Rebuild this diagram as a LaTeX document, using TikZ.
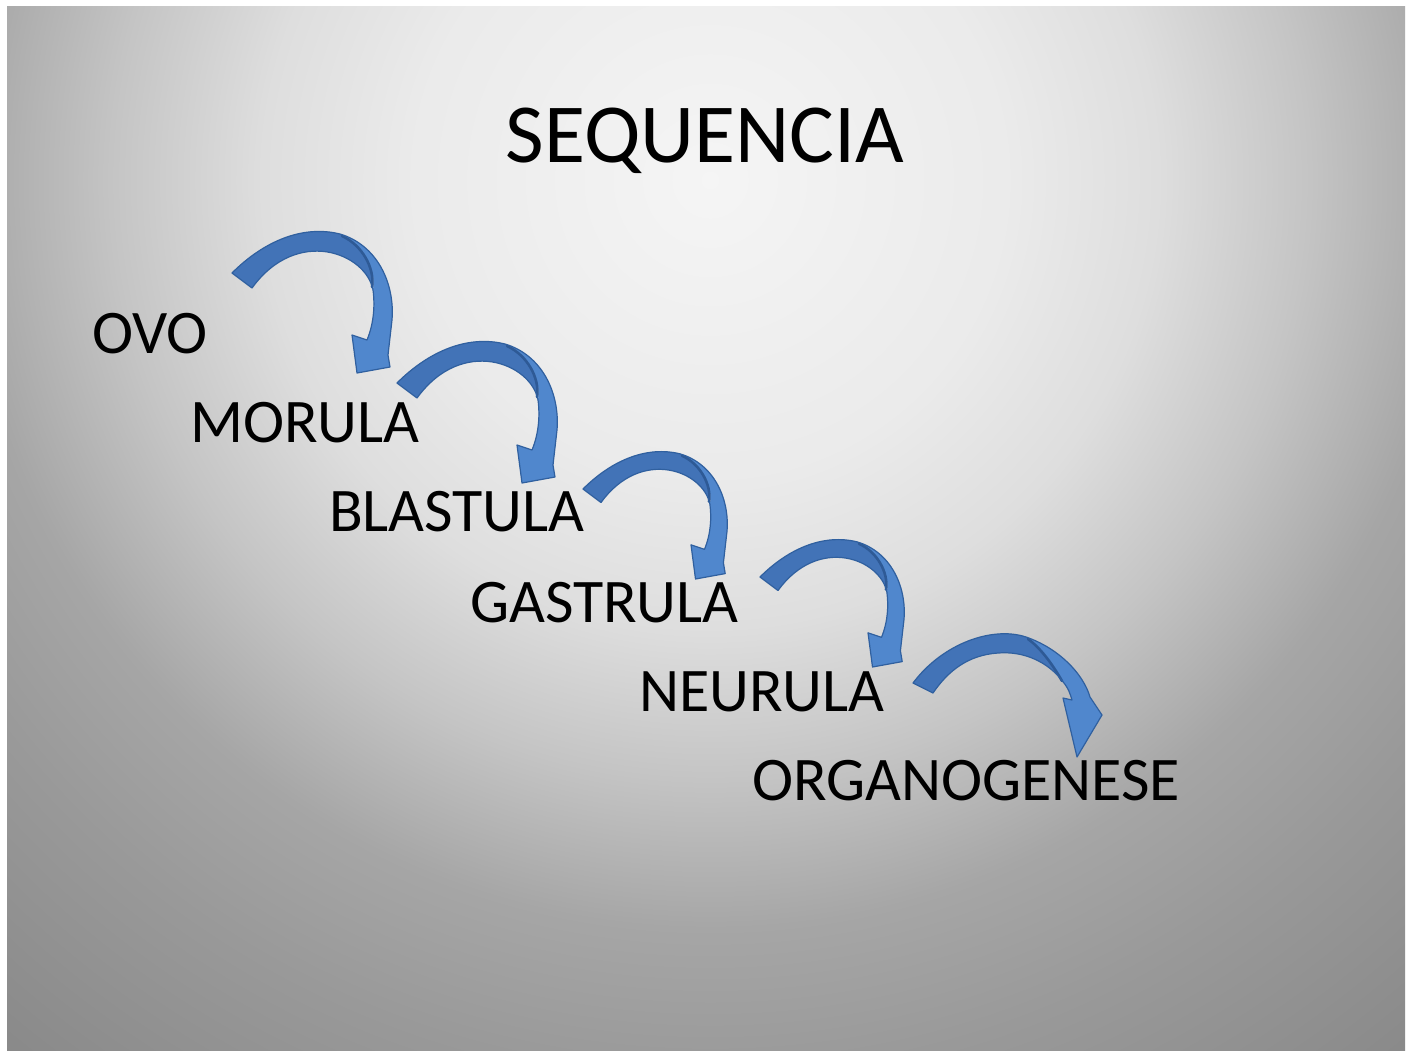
\documentclass[tikz,border=0pt]{standalone}
\usepackage{fontspec}
\setmainfont{Carlito}
\definecolor{arrowdark}{HTML}{4273B7}
\definecolor{arrowlight}{HTML}{5087CD}
\definecolor{arrowedge}{HTML}{30609F}
\definecolor{arrowfold}{HTML}{2E5A96}
\pgfdeclareradialshading{slidebg}{\pgfpoint{0bp}{0bp}}{%
  color(0bp)=(black!4); color(6.5bp)=(black!8); color(9.75bp)=(black!13);
  color(13bp)=(black!23); color(16.3bp)=(black!35); color(19.5bp)=(black!40);
  color(25bp)=(black!47); color(50bp)=(black!47)}
\tikzset{
  lbl/.style={inner sep=0pt, outer sep=0pt, anchor=base west, text=black,
    font=\fontsize{62}{70}\selectfont},
  ttl/.style={inner sep=0pt, outer sep=0pt, anchor=base, text=black,
    font=\fontsize{84}{96}\selectfont},
  edgeline/.style={draw=arrowedge, line width=1.2pt, line join=round},
  foldline/.style={draw=arrowfold, line width=2.6pt, line cap=round},
  carrowA/.pic={
    \fill[arrowdark] (0,0) .. controls (33,-33) and (72,-48) .. (108,-39)
      .. controls (130,-30) and (145,-5) .. (141,17)
      .. controls (134,-20) and (65,-47) .. (20,15) -- cycle;
    \fill[arrowlight] (108,-39) .. controls (145,-28) and (163,10) .. (160,47)
      -- (156,82) -- (158,94) -- (125,100) -- (120,62) -- (135,67)
      .. controls (142,50) and (143,32) .. (141,17)
      .. controls (145,-5) and (130,-30) .. (108,-39) -- cycle;
    \draw[foldline] (110,-37) .. controls (130,-28) and (143,-5) .. (140,14);
    \draw[edgeline] (0,0) .. controls (33,-33) and (72,-48) .. (108,-39)
      .. controls (145,-28) and (163,10) .. (160,47)
      -- (156,82) -- (158,94) -- (125,100) -- (120,62) -- (135,67)
      .. controls (142,50) and (143,32) .. (141,17)
      .. controls (134,-20) and (65,-47) .. (20,15) -- cycle;
  },
  carrowB/.pic={
    \fill[arrowdark] (0,0) .. controls (30,-40) and (80,-57) .. (113,-46)
      .. controls (128,-35) and (142,-15) .. (151,0)
      .. controls (135,-22) and (110,-32) .. (85,-30)
      .. controls (55,-28) and (35,-12) .. (20,10) -- cycle;
    \fill[arrowlight] (113,-46) .. controls (145,-35) and (170,-10) .. (177,14)
      -- (189,32) -- (164,74) -- (150,15) -- (159,17)
      .. controls (157,10) and (155,5) .. (151,0)
      .. controls (142,-15) and (128,-35) .. (113,-46) -- cycle;
    \draw[foldline] (115,-44) .. controls (129,-34) and (141,-16) .. (149,-2);
    \draw[edgeline] (0,0) .. controls (30,-40) and (80,-57) .. (113,-46)
      .. controls (145,-35) and (170,-10) .. (177,14)
      -- (189,32) -- (164,74) -- (150,15) -- (159,17)
      .. controls (157,10) and (155,5) .. (151,0)
      .. controls (135,-22) and (110,-32) .. (85,-30)
      .. controls (55,-28) and (35,-12) .. (20,10) -- cycle;
  },
}
\begin{document}
\begin{tikzpicture}[x=1pt,y=-1pt]
\useasboundingbox (0,0) rectangle (1413,1053);
\fill[white] (0,0) rectangle (1413,1053);
\begin{scope}
  \clip (7,6) rectangle (1405,1050);
  \shade[shading=slidebg] (710,180) circle (1150pt);
\end{scope}

\node[ttl] (title) at (705,162) {SEQUENCIA};

\node[lbl] (ovo) at (92,353) {OVO};
\node[lbl] (morula) at (190,442) {MORULA};
\node[lbl] (blastula) at (329,531) {BLASTULA};
\node[lbl] (gastrula) at (470,622) {GASTRULA};
\node[lbl] (neurula) at (639,711) {NEURULA};
\node[lbl] (organo) at (752,800) {ORGANOGENESE};

\pic at (232,273) {carrowA};
\pic at (397,383) {carrowA};
\pic[xscale=0.9, yscale=0.9] at (583,489) {carrowA};
\pic[xscale=0.9, yscale=0.9] at (760,577) {carrowA};
\pic at (913,683) {carrowB};
\end{tikzpicture}
\end{document}
